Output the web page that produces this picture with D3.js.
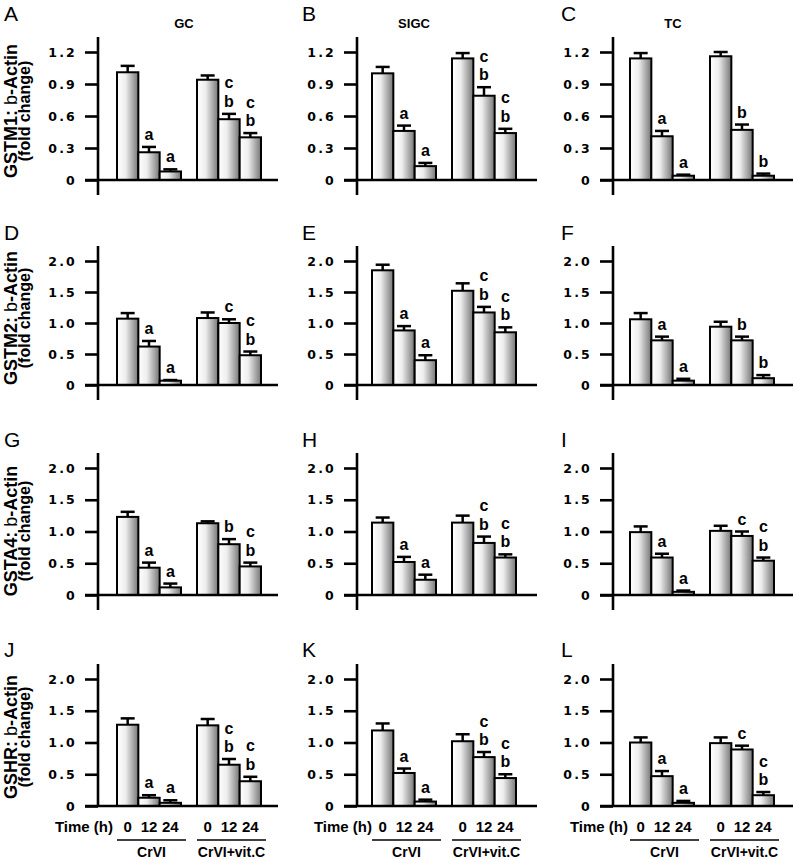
<!DOCTYPE html>
<html><head><meta charset="utf-8">
<script src="https://cdn.jsdelivr.net/npm/d3@7"></script>
<style>body{margin:0;background:#fff} svg{display:block}</style>
</head><body>
<svg id="chart" width="800" height="859"></svg>
<script>
// ---------- data ----------
const columns = ["GC", "SIGC", "TC"];
const genes = ["GSTM1", "GSTM2", "GSTA4", "GSHR"];
const panelLetters = [["A", "B", "C"], ["D", "E", "F"], ["G", "H", "I"], ["J", "K", "L"]];
const times = ["0", "12", "24"];
const treatments = ["CrVI", "CrVI+vit.C"];
const tickValuesRow1 = [0, 0.3, 0.6, 0.9, 1.2];
const tickLabelsRow1 = ["0", "0.3", "0.6", "0.9", "1.2"];
const tickValuesOther = [0, 0.5, 1.0, 1.5, 2.0];
const tickLabelsOther = ["0", "0.5", "1.0", "1.5", "2.0"];

// each gene: [GC, SIGC, TC], six bars = CrVI 0/12/24 h, CrVI+vit.C 0/12/24 h
const gstm1Values = [[1.01, 0.26, 0.08, 0.94, 0.57, 0.40], [1.00, 0.46, 0.13, 1.14, 0.79, 0.44], [1.14, 0.41, 0.04, 1.16, 0.47, 0.04]];
const gstm1Errors = [[0.06, 0.05, 0.02, 0.04, 0.05, 0.04], [0.06, 0.05, 0.03, 0.05, 0.08, 0.04], [0.05, 0.05, 0.01, 0.04, 0.05, 0.02]];
const gstm1Letters = [["", "a", "a", "", "cb", "cb"], ["", "a", "a", "", "cb", "cb"], ["", "a", "a", "", "b", "b"]];

const gstm2Values = [[1.07, 0.62, 0.07, 1.08, 1.00, 0.48], [1.85, 0.88, 0.40, 1.52, 1.17, 0.85], [1.06, 0.72, 0.07, 0.94, 0.72, 0.11]];
const gstm2Errors = [[0.09, 0.09, 0.01, 0.09, 0.06, 0.06], [0.09, 0.07, 0.08, 0.12, 0.09, 0.08], [0.10, 0.06, 0.03, 0.08, 0.06, 0.05]];
const gstm2Letters = [["", "a", "a", "", "c", "cb"], ["", "a", "a", "", "cb", "cb"], ["", "a", "a", "", "b", "b"]];

const gsta4Values = [[1.23, 0.43, 0.12, 1.13, 0.80, 0.45], [1.14, 0.52, 0.24, 1.14, 0.82, 0.59], [0.99, 0.59, 0.05, 1.01, 0.93, 0.54]];
const gsta4Errors = [[0.08, 0.08, 0.06, 0.03, 0.08, 0.06], [0.08, 0.08, 0.08, 0.11, 0.10, 0.05], [0.09, 0.06, 0.02, 0.08, 0.07, 0.05]];
const gsta4Letters = [["", "a", "a", "", "b", "cb"], ["", "a", "a", "", "cb", "cb"], ["", "a", "a", "", "c", "cb"]];

const gshrValues = [[1.28, 0.13, 0.05, 1.27, 0.65, 0.39], [1.19, 0.52, 0.07, 1.02, 0.77, 0.44], [1.00, 0.47, 0.05, 0.99, 0.89, 0.17]];
const gshrErrors = [[0.10, 0.04, 0.04, 0.10, 0.09, 0.07], [0.11, 0.07, 0.03, 0.11, 0.08, 0.06], [0.08, 0.08, 0.03, 0.09, 0.06, 0.05]];
const gshrLetters = [["", "a", "a", "", "cb", "cb"], ["", "a", "a", "", "cb", "cb"], ["", "a", "a", "", "c", "cb"]];

const allValues = [gstm1Values, gstm2Values, gsta4Values, gshrValues];
const allErrors = [gstm1Errors, gstm2Errors, gsta4Errors, gshrErrors];
const allLetters = [gstm1Letters, gstm2Letters, gsta4Letters, gshrLetters];

// ---------- layout ----------
const colAxisX = [98, 357, 613];
const colBarOffset = [19, 15, 17];
const colTitleX = [184, 414, 673];
const colLetterX = [4, 302, 561];
const rowZeroY = [180, 385, 595, 806];
const rowTopTickY = [52, 261, 468, 679];
const rowLetterY = [21, 240, 447, 657];
const rowLabelY = [111, 318, 531, 737];
const groupsWidth = 144;

const svg = d3.select("#chart");
const defs = svg.append("defs");
const grad = defs.append("linearGradient").attr("id", "barGrad")
  .attr("x1", "0").attr("x2", "1").attr("y1", "0").attr("y2", "0");
grad.append("stop").attr("offset", "0").attr("stop-color", "#ffffff");
grad.append("stop").attr("offset", "0.4").attr("stop-color", "#eeeeee");
grad.append("stop").attr("offset", "1").attr("stop-color", "#767676");

const boldFont = "'Liberation Sans', Arial, sans-serif";

for (let r = 0; r < 4; r++) {
  for (let c = 0; c < 3; c++) {
    const axisX = colAxisX[c];
    const y0 = rowZeroY[r];
    const tickVals = r === 0 ? tickValuesRow1 : tickValuesOther;
    const tickLabs = r === 0 ? tickLabelsRow1 : tickLabelsOther;
    const topVal = tickVals[tickVals.length - 1];
    const y = d3.scaleLinear().domain([0, topVal]).range([y0, rowTopTickY[r]]);
    const start = axisX + colBarOffset[c];
    const xGroup = d3.scaleBand().domain(treatments).range([start, start + groupsWidth]).paddingInner(0.2).paddingOuter(0);
    const xTime = d3.scaleBand().domain(times).range([0, xGroup.bandwidth()]).padding(0);

    const vals = allValues[r][c], errs = allErrors[r][c], lets = allLetters[r][c];
    const data = vals.map((v, i) => ({
      treatment: treatments[Math.floor(i / 3)], time: times[i % 3], v, e: errs[i], letters: lets[i]
    }));
    const bx = d => xGroup(d.treatment) + xTime(d.time);
    const g = svg.append("g");

    // bars
    g.selectAll("rect.bar").data(data).join("rect").attr("class", "bar")
      .attr("x", bx).attr("width", xTime.bandwidth())
      .attr("y", d => y(d.v)).attr("height", d => y0 - y(d.v))
      .attr("fill", "url(#barGrad)").attr("stroke", "#000").attr("stroke-width", 2);

    // error bars
    g.selectAll("line.err").data(data).join("line").attr("class", "err")
      .attr("x1", d => bx(d) + xTime.bandwidth() / 2).attr("x2", d => bx(d) + xTime.bandwidth() / 2)
      .attr("y1", d => y(d.v)).attr("y2", d => y(d.v + d.e))
      .attr("stroke", "#000").attr("stroke-width", 2.5);
    g.selectAll("line.cap").data(data).join("line").attr("class", "cap")
      .attr("x1", d => bx(d) + xTime.bandwidth() / 2 - 7).attr("x2", d => bx(d) + xTime.bandwidth() / 2 + 7)
      .attr("y1", d => y(d.v + d.e)).attr("y2", d => y(d.v + d.e))
      .attr("stroke", "#000").attr("stroke-width", 2.5);

    // significance letters
    data.forEach(d => {
      const ls = d.letters.split("");
      ls.forEach((L, k) => {
        const fromBottom = ls.length - 1 - k;
        g.append("text").text(L)
          .attr("x", bx(d) + xTime.bandwidth() / 2)
          .attr("y", y(d.v + d.e) - 7 - fromBottom * 18.5)
          .attr("text-anchor", "middle")
          .attr("font-family", boldFont).attr("font-weight", "bold").attr("font-size", 16);
      });
    });

    // y axis
    const ax = g.append("g").attr("transform", `translate(${axisX},0)`)
      .call(d3.axisLeft(y).tickValues(tickVals).tickFormat((d, i) => tickLabs[i]).tickSize(13).tickPadding(8));
    ax.select(".domain").remove();
    ax.selectAll(".tick line").attr("stroke", "#000").attr("stroke-width", 2.6);
    ax.selectAll(".tick text").attr("font-family", "'DejaVu Sans', sans-serif").attr("font-weight", "bold")
      .attr("font-size", 12.5).attr("letter-spacing", 2.2).attr("fill", "#000");
    const axisBottom = r === 3 ? y0 : y0 + 15;
    g.append("line").attr("x1", axisX).attr("x2", axisX)
      .attr("y1", y(topVal) - 15).attr("y2", axisBottom)
      .attr("stroke", "#000").attr("stroke-width", 2.6);
    // x axis line
    g.append("line").attr("x1", axisX - 13).attr("x2", axisX + 180)
      .attr("y1", y0).attr("y2", y0).attr("stroke", "#000").attr("stroke-width", 2.6);

    // panel letter
    svg.append("text").text(panelLetters[r][c]).attr("x", colLetterX[c]).attr("y", rowLetterY[r])
      .attr("font-family", boldFont).attr("font-size", 21);

    // column titles
    if (r === 0) {
      svg.append("text").text(columns[c]).attr("x", colTitleX[c]).attr("y", 28)
        .attr("text-anchor", "middle").attr("font-family", boldFont).attr("font-weight", "bold").attr("font-size", 13);
    }

    // y labels
    if (c === 0) {
      const t1 = svg.append("text").attr("transform", `translate(17,${rowLabelY[r]}) rotate(-90)`)
        .attr("text-anchor", "middle").attr("font-family", boldFont).attr("font-weight", "bold").attr("font-size", 18);
      t1.append("tspan").text(genes[r] + ": ");
      t1.append("tspan").attr("font-weight", "normal").text("b");
      t1.append("tspan").text("-Actin");
      svg.append("text").attr("transform", `translate(30,${rowLabelY[r]}) rotate(-90)`)
        .attr("text-anchor", "middle").attr("font-family", boldFont).attr("font-weight", "bold").attr("font-size", 16)
        .text("(fold change)");
    }

    // bottom row x labels
    if (r === 3) {
      g.append("text").text("Time (h)").attr("x", axisX + 15).attr("y", y0 + 26)
        .attr("text-anchor", "end").attr("font-family", boldFont).attr("font-weight", "bold").attr("font-size", 15);
      g.selectAll("text.tl").data(data).join("text").attr("class", "tl")
        .text(d => d.time).attr("x", d => bx(d) + xTime.bandwidth() / 2).attr("y", y0 + 26)
        .attr("text-anchor", "middle").attr("font-family", boldFont).attr("font-weight", "bold").attr("font-size", 15);
      treatments.forEach(t => {
        const x1 = xGroup(t), x2 = xGroup(t) + xGroup.bandwidth() + 5;
        g.append("line").attr("x1", x1).attr("x2", x2).attr("y1", y0 + 34).attr("y2", y0 + 34)
          .attr("stroke", "#000").attr("stroke-width", 1.6);
        g.append("text").text(t).attr("x", (x1 + x2) / 2).attr("y", y0 + 51)
          .attr("text-anchor", "middle").attr("font-family", boldFont).attr("font-weight", "bold").attr("font-size", 14);
      });
    }
  }
}
</script>
</body></html>
